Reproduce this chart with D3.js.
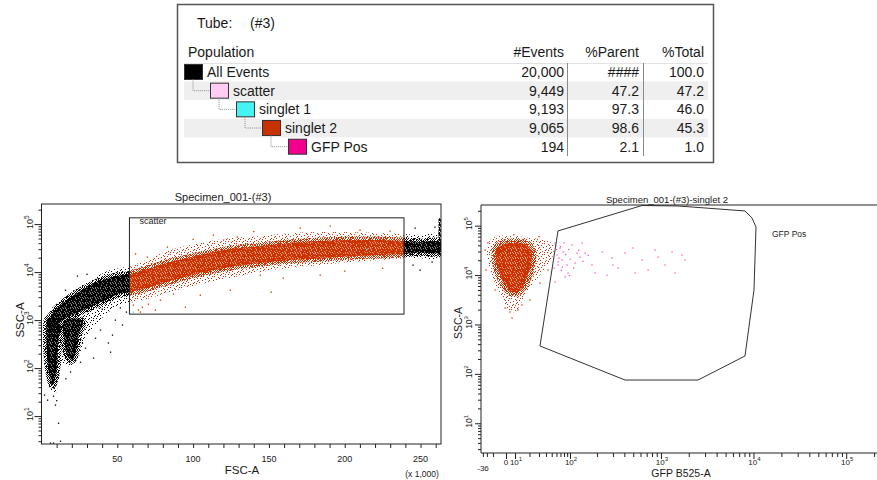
<!DOCTYPE html>
<html>
<head>
<meta charset="utf-8">
<script src="https://cdn.jsdelivr.net/npm/d3@7"></script>
<style>
  body { margin: 0; background: #fff; }
  text { font-family: "Liberation Sans", Arial, sans-serif; fill: #1a1a1a; }
</style>
</head>
<body>
<svg id="chart" width="877" height="480"></svg>
<script>
// ---------- population hierarchy ----------
const popNames = ["All Events", "scatter", "singlet 1", "singlet 2", "GFP Pos"];
const popLevel = [0, 1, 2, 3, 4];
const popEvents = [20000, 9449, 9193, 9065, 194];
const popParent = [null, 47.2, 97.3, 98.6, 2.1];
const popTotal = [100.0, 47.2, 46.0, 45.3, 1.0];

// ---------- FSC-A (x 1,000) vs SSC-A ----------
const fscDomain = [0, 263.5];
const fscLabels = [50, 100, 150, 200, 250];
const sscDomain = [2.62, 262144];
const sscDecades = [1, 2, 3, 4, 5];
const scatterGateX = [58, 239.1];
const scatterGateY = [1330, 135000];

// density outlines, [fsc, ssc]
const mainOuter = [[5.9,35],[4,62],[2.6,147],[2,385],[3.3,1000],[5.9,1620],[12.5,2610],[21.1,4200],[32.3,6800],
  [45.5,11000],[58.6,13300],[71.8,19500],[85,28700],[104.7,40200],[124.5,51100],[144.3,56200],[164,64900],
  [183.8,68100],[203.6,68100],[223.3,64900],[239.1,61900],[249.7,59000],[262.8,61900],[262.8,19500],
  [249.7,19500],[239.1,19500],[223.3,17800],[203.6,16200],[183.8,14000],[164,12100],[144.3,10000],
  [124.5,7500],[104.7,5620],[85,3830],[71.8,2870],[58.6,2260],[50.7,2050],[42.2,1270],[33.6,680],
  [28.3,385],[25,187],[21.7,110],[17.1,110],[13.8,127],[11.2,56],[9.2,30]];
const mainCore = [[5.3,1000],[9.2,1620],[15.8,2490],[24.4,3830],[35.6,5900],[46.8,7900],[58.6,9090],
  [71.8,12100],[85,16200],[104.7,22600],[124.5,30100],[144.3,34800],[164,40200],[183.8,44200],
  [203.6,46400],[223.3,46400],[239.1,44200],[249.7,42000],[262.8,42000],[262.8,26000],[249.7,26000],
  [239.1,23700],[223.3,22600],[203.6,21500],[183.8,19500],[164,17800],[144.3,15400],[124.5,12700],
  [104.7,9550],[85,6500],[71.8,4870],[58.6,3830],[50.7,3480],[42.2,2610],[31,1780],[20.4,1270],
  [12.5,910],[5.9,560]];
const lobeLeft = [[4.6,1100],[3.3,385],[4,133],[5.3,71],[7.2,44],[9.2,62],[10.5,147],[11.2,385],[12.5,790]];
const lobeRight = [[14.5,910],[15.2,385],[17.1,177],[20.4,147],[23,237],[24.4,487],[27,910],[20.4,1100]];
const fscMaxPile = [[261.9,133000],[263.4,133000],[263.4,22600],[261.9,22600]];

const blackStray = [[7.9,26],[9.2,17],[11.2,7.1],[12.5,3],[5.9,2.74],[7.9,2.74],[4,21.5],[2,27.5],
  [34.3,162],[44.1,333],[45.5,215],[53.4,790],[29,261],[38.9,620],[48.7,1000],[25.7,133],[35.6,420],
  [56,1470],[19.1,83],[46.8,487],[245,14000],[249.7,11000],[257.6,16200],[246.4,82500],[259.5,86500],
  [23.7,8250],[15.8,4200],[30,9000],[40,1700],[52,1800],[10,21],[16,60],[27,330]];
const redStray = [[60.6,2050],[63.9,1620],[66.5,1860],[70.5,2150],[78.4,2610],[87,3480],[94.9,1860],
  [151.5,3830],[159.4,7500],[144.3,8660],[113.3,59000],[129.1,53600],[83,33200],[69.8,20500],
  [170.6,82500],[190.4,90800],[210.1,75000],[229.9,71500],[65.2,1470],[75.1,1620],[124.5,4200],
  [183.8,8660],[104.7,3300],[100,48000],[140,70000],[62,24000],[200,10500],[225,12000]];
const pinkStray = [[170.6,28700],[203.6,36500],[223.3,51100],[137.7,16200],[233.2,42200],[180,24000],[120,47000]];
const cyanStray = [[60.6,1470],[215,30000]];

// ---------- GFP B525-A vs SSC-A ----------
const gfpDomain = [-36, 0, 10, 100, 262144];
const gfpDecades = [2, 3, 4, 5];
const gfpGate = [[63.7,78200],[623,256000],[1530,250500],[8095,198600],[9635,143300],[10645,94200],
  [10125,4990],[8095,230],[2518,75],[407,75],[31.3,367]];
const s2Outer = [[-14,51400],[-3.3,61900],[10,61900],[20.5,56400],[38.4,51400],[52.6,40700],[52.6,25500],
  [43.2,16000],[31.3,10000],[22.4,6300],[16.4,3950],[12.9,2480],[10,1790],[1.4,1970],[-1.4,3130],
  [-4.8,4990],[-10,8730],[-16,16000],[-20,29400]];
const s2Core = [[-5.7,35400],[-0.4,42700],[11.7,44700],[18.8,38800],[22.4,25500],[20.5,13900],[17.1,7960],
  [12.9,4990],[5.4,4550],[-0.4,6300],[-4,11560],[-6.6,20200]];
const s2Stray = [[-0.4,2160],[3.1,1790],[11.7,1970],[14.2,2480],[20.5,3130],[-24,32200],[31.3,6900],
  [43.2,12700],[-7.6,4990],[-22,12700],[5.4,1360],[25.4,32200],[-18,45000],[8,66000],[30,60000]];
const gfpPos = [[56.8,44700],[68.7,35400],[61.3,25500],[74.2,20200],[54.7,13900],[63.7,16000],[77,29400],
  [89.5,16000],[92.8,11000],[105,40700],[120,28000],[130,23200],[147,28000],[137,44700],[114,17600],
  [83,9160],[56.8,7250],[176,16000],[190,11000],[228,29400],[258,10000],[293,22200],[341,13900],
  [407,28000],[497,35400],[523,11000],[623,20200],[724,12700],[862,32200],[929,23200],[1107,16000],
  [1318,29400],[1420,11000],[1690,25500],[1822,20200],[300,16000],[60,33000],[66,22000],[70,38000],
  [72,12500],[80,45000],[64,18500],[85,26000],[95,33000],[100,21000],[110,14000],[125,32000],
  [160,25000],[58,40000],[75,14500],[98,9800],[140,19000]];

// ---------- styles ----------
const popColor = ["#000000", "#ffccf3", "#46f3f3", "#c83200", "#f0008c"];
const RED = "#cc3300", PINK = "#ff4fc8", CYAN = "#33e0e8", INK = "#222";

const svg = d3.select("#chart");
const defs = svg.append("defs");

// grain tiles used to give the density areas a scattered-dot texture
const sparseDots = [[0,0],[5,1],[9,2],[2,3],[7,4],[4,5],[10,6],[1,7],[6,8],[3,9],[8,10],[0,5],[9,8],[5,10],
  [3,1],[7,7],[1,10],[10,3]];
const mediumDots = [[0,0],[2,0],[5,0],[1,1],[4,1],[6,1],[0,2],[3,2],[5,2],[1,3],[2,3],[4,3],[6,3],
  [0,4],[3,4],[5,4],[1,5],[4,5],[6,5],[0,6],[2,6],[3,6],[5,6]];
const denseDots = [[0,0],[2,0],[3,0],[4,0],[0,1],[1,1],[2,1],[3,1],[1,2],[3,2],[4,2],[1,3],[2,3],[4,3],
  [0,4],[2,4],[3,4],[4,4]];
function speckle(id, color, size, pts) {
  const p = defs.append("pattern").attr("id", id)
    .attr("patternUnits", "userSpaceOnUse").attr("width", size).attr("height", size);
  p.selectAll("rect").data(pts).join("rect")
    .attr("x", d => d[0]).attr("y", d => d[1]).attr("width", 1).attr("height", 1)
    .attr("fill", color);
}
speckle("spBlack", "#000", 11, sparseDots);
speckle("mdBlack", "#000", 7, mediumDots);
speckle("dnBlack", "#000", 5, denseDots);
speckle("spRed", RED, 11, sparseDots);
speckle("mdRed", RED, 7, mediumDots);
speckle("dnRed", RED, 5, denseDots);

function blob(g, xs, ys, pts) {
  return g.append("path")
    .attr("d", d3.line().x(d => xs(d[0])).y(d => ys(d[1])).curve(d3.curveCatmullRomClosed.alpha(0.5))(pts));
}
// dense area: soft solid underlay, grain on top, medium-grain rim
function core(g, xs, ys, pts, color, tag, rim) {
  blob(g, xs, ys, pts).attr("fill", color).attr("fill-opacity", 0.5);
  blob(g, xs, ys, pts).attr("fill", `url(#dn${tag})`).attr("stroke", `url(#md${tag})`).attr("stroke-width", rim);
}
function dots(g, xs, ys, pts, color) {
  g.selectAll(null).data(pts).join("rect")
    .attr("x", d => xs(d[0]) - 0.6).attr("y", d => ys(d[1]) - 0.6)
    .attr("width", 1.3).attr("height", 1.3).attr("fill", color);
}
function powLabel(t, exp, small) {
  t.append("tspan").text("10");
  t.append("tspan").attr("dy", -4).style("font-size", small).text(exp);
}
function logMinors(dom) {
  const out = [];
  for (let d = 0; d <= 5; d++) for (let m = 2; m <= 9; m++) {
    const v = m * Math.pow(10, d);
    if (v >= dom[0] && v <= dom[dom.length - 1]) out.push(v);
  }
  return out;
}
function styleAxis(g) {
  g.select(".domain").remove();
  g.selectAll("line").attr("stroke", INK);
}

// ---------- table ----------
const T = svg.append("g");
T.append("rect").attr("x", 177.5).attr("y", 4.5).attr("width", 536).attr("height", 158)
  .attr("fill", "#fff").attr("stroke", "#555").attr("stroke-width", 1.5);
T.append("text").attr("x", 197).attr("y", 28).style("font-size", "14px").text("Tube:");
T.append("text").attr("x", 250).attr("y", 28).style("font-size", "14px").text("(#3)");
const colRight = [564, 639, 704];
const header = ["#Events", "%Parent", "%Total"];
T.append("text").attr("x", 188).attr("y", 57).style("font-size", "14px").text("Population");
header.forEach((h, i) => T.append("text").attr("x", colRight[i]).attr("y", 57)
  .attr("text-anchor", "end").style("font-size", "14px").text(h));
T.append("line").attr("x1", 184).attr("x2", 708).attr("y1", 63.5).attr("y2", 63.5).attr("stroke", "#e2e2e2");

const rowY = d3.scaleLinear().domain([0, popNames.length - 1]).range([72, 146.7]);
const indent = lvl => 184 + lvl * 26;
popNames.forEach((n, i) => {
  if (i % 2 === 1) T.append("rect").attr("x", 184).attr("y", rowY(i) - 9.3).attr("width", 524)
    .attr("height", 18.7).attr("fill", "#efefef");
});
[567.5, 643.5].forEach(x => T.append("line").attr("x1", x).attr("x2", x).attr("y1", 63)
  .attr("y2", 156).attr("stroke", "#8a8a8a"));
popNames.forEach((n, i) => {
  const y = rowY(i), lvl = popLevel[i], x = indent(lvl);
  if (lvl > 0) {
    const px = indent(lvl - 1) + 9;
    T.append("path").attr("d", `M${px},${rowY(i - 1) + 7.5}V${y}H${x}`)
      .attr("fill", "none").attr("stroke", "#8c8c8c").attr("stroke-dasharray", "1,1");
  }
  T.append("rect").attr("x", x + 0.5).attr("y", y - 7.5).attr("width", 18).attr("height", 15)
    .attr("fill", popColor[i]).attr("stroke", "#333");
  T.append("text").attr("x", x + 23).attr("y", y + 5).style("font-size", "14px").text(n);
  const vals = [d3.format(",")(popEvents[i]), popParent[i] == null ? "####" : d3.format(".1f")(popParent[i]),
    d3.format(".1f")(popTotal[i])];
  vals.forEach((v, j) => T.append("text").attr("x", colRight[j]).attr("y", y + 5)
    .attr("text-anchor", "end").style("font-size", "14px").text(v));
});

// ---------- left plot: FSC-A vs SSC-A ----------
const xL = d3.scaleLinear().domain(fscDomain).range([41.5, 441]);
const yL = d3.scaleLog().domain(sscDomain).range([444, 204]);
const [lx0, lx1] = xL.range(), [ly1, ly0] = yL.range();
const gx0 = xL(scatterGateX[0]), gx1 = xL(scatterGateX[1]);
const gy0 = yL(scatterGateY[1]), gy1 = yL(scatterGateY[0]);
defs.append("clipPath").attr("id", "lFrame").append("rect")
  .attr("x", lx0).attr("y", ly0).attr("width", lx1 - lx0).attr("height", ly1 - ly0);
defs.append("clipPath").attr("id", "lIn").append("rect")
  .attr("x", gx0).attr("y", gy0).attr("width", gx1 - gx0).attr("height", gy1 - gy0);
defs.append("clipPath").attr("id", "lOut").append("path").attr("clip-rule", "evenodd")
  .attr("d", `M${lx0},${ly0}H${lx1}V${ly1}H${lx0}Z M${gx0},${gy0}H${gx1}V${gy1}H${gx0}Z`);

const L = svg.append("g").attr("clip-path", "url(#lFrame)");
const Lout = L.append("g").attr("clip-path", "url(#lOut)");
blob(Lout, xL, yL, mainOuter).attr("fill", "url(#spBlack)");
[mainCore, lobeLeft, lobeRight].forEach(p => core(Lout, xL, yL, p, "#000", "Black", 7));
Lout.append("path").attr("d", d3.line().x(d => xL(d[0])).y(d => yL(d[1]))(fscMaxPile) + "Z").attr("fill", "url(#dnBlack)");
dots(Lout, xL, yL, blackStray, "#000");

const Lin = L.append("g").attr("clip-path", "url(#lIn)");
blob(Lin, xL, yL, mainOuter).attr("fill", "url(#spRed)");
core(Lin, xL, yL, mainCore, RED, "Red", 7);
dots(Lin, xL, yL, redStray, RED);
dots(Lin, xL, yL, pinkStray, PINK);
dots(Lin, xL, yL, cyanStray, CYAN);

svg.append("rect").attr("x", gx0).attr("y", gy0).attr("width", gx1 - gx0).attr("height", gy1 - gy0)
  .attr("fill", "none").attr("stroke", INK).attr("stroke-width", 1);
svg.append("text").attr("x", gx0 + 10).attr("y", gy0 + 6).style("font-size", "9px").text("scatter");
svg.append("rect").attr("x", lx0).attr("y", ly0).attr("width", lx1 - lx0).attr("height", ly1 - ly0)
  .attr("fill", "none").attr("stroke", INK).attr("stroke-width", 1);

svg.append("g").attr("transform", `translate(0,${ly1})`)
  .call(d3.axisBottom(xL).tickValues(d3.range(10, 261, 10)).tickSize(4).tickFormat(""))
  .call(styleAxis);
svg.append("g").attr("transform", `translate(${lx0},0)`)
  .call(d3.axisLeft(yL).tickValues(logMinors(sscDomain)).tickSize(3).tickFormat(""))
  .call(styleAxis);
svg.append("g").attr("transform", `translate(${lx0},0)`)
  .call(d3.axisLeft(yL).tickValues(sscDecades.map(d => Math.pow(10, d))).tickSize(7).tickFormat(""))
  .call(styleAxis);
fscLabels.forEach(v => svg.append("text").attr("x", xL(v)).attr("y", 462)
  .attr("text-anchor", "middle").style("font-size", "9px").text(v));
sscDecades.forEach(d => {
  const t = svg.append("text").attr("transform", `translate(33,${yL(Math.pow(10, d)) - 2}) rotate(-90)`)
    .attr("text-anchor", "middle").style("font-size", "9px");
  powLabel(t, d, "6.5px");
});
svg.append("text").attr("x", 223).attr("y", 201).attr("text-anchor", "middle")
  .style("font-size", "11px").text("Specimen_001-(#3)");
svg.append("text").attr("x", 242).attr("y", 474).attr("text-anchor", "middle")
  .style("font-size", "11.5px").text("FSC-A");
svg.append("text").attr("x", 422).attr("y", 477).attr("text-anchor", "middle")
  .style("font-size", "8.5px").text("(x 1,000)");
svg.append("text").attr("transform", "translate(24,320) rotate(-90)").attr("text-anchor", "middle")
  .style("font-size", "11.5px").text("SSC-A");

// ---------- right plot: GFP B525-A vs SSC-A ----------
const xR = d3.scaleSymlog().constant(5).domain(gfpDomain).range([481, 506, 515, 570, 885]);
const yR = d3.scaleLog().domain([2.5, 262144]).range([453, 205]);
const rx0 = 481, rx1 = 877, [ry1, ry0] = yR.range();
const gatePath = d3.line().x(d => xR(d[0])).y(d => yR(d[1]))(gfpGate) + "Z";
defs.append("clipPath").attr("id", "rFrame").append("rect")
  .attr("x", rx0).attr("y", ry0).attr("width", rx1 - rx0).attr("height", ry1 - ry0);
defs.append("clipPath").attr("id", "rOut").append("path").attr("clip-rule", "evenodd")
  .attr("d", `M${rx0},${ry0}H${rx1}V${ry1}H${rx0}Z ` + gatePath);

const R = svg.append("g").attr("clip-path", "url(#rFrame)");
const Rout = R.append("g").attr("clip-path", "url(#rOut)");
blob(Rout, xR, yR, s2Outer).attr("fill", "url(#spRed)");
core(Rout, xR, yR, s2Core, RED, "Red", 9);
dots(Rout, xR, yR, s2Stray, RED);
dots(R, xR, yR, gfpPos, PINK);
R.append("path").attr("d", gatePath).attr("fill", "none").attr("stroke", "#333").attr("stroke-width", 1);
svg.append("text").attr("x", 772).attr("y", 237).style("font-size", "8.5px").text("GFP Pos");

svg.append("path").attr("d", `M${rx1},${ry0}H${rx0}V${ry1}H${rx1}`)
  .attr("fill", "none").attr("stroke", INK).attr("stroke-width", 1);

const gfpMinor = [-30, -20, -10].concat(logMinors([20, 262144]));
svg.append("g").attr("transform", `translate(0,${ry1})`)
  .call(d3.axisBottom(xR).tickValues(gfpMinor).tickSize(4).tickFormat(""))
  .call(styleAxis);
svg.append("g").attr("transform", `translate(0,${ry1})`)
  .call(d3.axisBottom(xR).tickValues([0, 10].concat(gfpDecades.map(d => Math.pow(10, d)))).tickSize(6).tickFormat(""))
  .call(styleAxis);
svg.append("g").attr("transform", `translate(${rx0},0)`)
  .call(d3.axisLeft(yR).tickValues(logMinors(yR.domain())).tickSize(3).tickFormat(""))
  .call(styleAxis);
svg.append("g").attr("transform", `translate(${rx0},0)`)
  .call(d3.axisLeft(yR).tickValues(sscDecades.map(d => Math.pow(10, d))).tickSize(6).tickFormat(""))
  .call(styleAxis);

svg.append("text").attr("x", xR(gfpDomain[0]) + 2).attr("y", 471).attr("text-anchor", "middle")
  .style("font-size", "8px").text(gfpDomain[0]);
svg.append("text").attr("x", xR(0)).attr("y", 465).attr("text-anchor", "middle")
  .style("font-size", "8px").text("0");
[1].concat(gfpDecades).forEach(d => {
  const t = svg.append("text").attr("x", xR(Math.pow(10, d)) + 1).attr("y", 465)
    .attr("text-anchor", "middle").style("font-size", "8px");
  powLabel(t, d, "6px");
});
sscDecades.forEach(d => {
  const t = svg.append("text").attr("transform", `translate(472,${yR(Math.pow(10, d)) - 2}) rotate(-90)`)
    .attr("text-anchor", "middle").style("font-size", "8.5px");
  powLabel(t, d, "6px");
});
svg.append("text").attr("x", 667).attr("y", 203).attr("text-anchor", "middle")
  .style("font-size", "9.5px").text("Specimen_001-(#3)-singlet 2");
svg.append("text").attr("x", 681).attr("y", 477).attr("text-anchor", "middle")
  .style("font-size", "10.5px").text("GFP B525-A");
svg.append("text").attr("transform", "translate(462,323) rotate(-90)").attr("text-anchor", "middle")
  .style("font-size", "10.5px").text("SSC-A");
</script>
</body>
</html>
